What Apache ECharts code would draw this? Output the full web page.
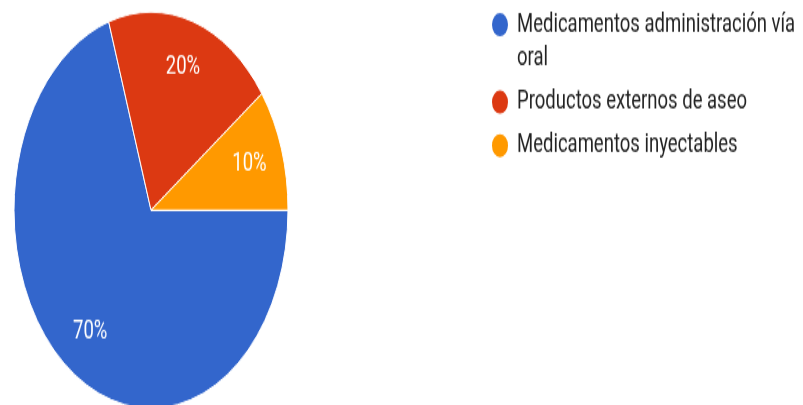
<!DOCTYPE html>
<html>
<head>
<meta charset="utf-8">
<script src="https://cdn.jsdelivr.net/npm/echarts@6/dist/echarts.min.js"></script>
<style>
  html, body { margin: 0; padding: 0; background: #fff; }
  body { width: 803px; height: 405px; position: relative; }
  #c { position: absolute; left: 0; top: 0; width: 803px; height: 280px; transform: scaleY(1.4464); transform-origin: 0 0; }
</style>
</head>
<body>
<div id="c"></div>
<script>
const categories = ['Medicamentos administración vía oral', 'Productos externos de aseo', 'Medicamentos inyectables'];
const values = [70, 20, 10];
const colors = ['#3366CC', '#DC3912', '#FF9900'];

const chart = echarts.init(document.getElementById('c'));
const pieData = categories.map((n, i) => ({ name: n, value: values[i], itemStyle: { color: colors[i] } }));
const labelData = categories.map((n, i) => ({ name: n, value: values[i] }));

// wrap long legend entry: last word goes to a second line (as in the reference)
function wrapLast(name) {
  const i = name.lastIndexOf(' ');
  return '\n' + name.slice(0, i) + '\n' + name.slice(i + 1);
}

const legendBase = {
  orient: 'vertical', left: 490, padding: 0,
  icon: 'circle', itemWidth: 18, itemHeight: 18,
  selectedMode: false
};
const LH = 23.5;
const textBase = { fontFamily: 'Roboto', fontSize: 18.5, color: '#222', lineHeight: LH, padding: [0, 0, 0, 3] };

chart.setOption({
  animation: false,
  legend: [
    Object.assign({}, legendBase, {
      top: -18.15,
      data: [categories[0]],
      formatter: wrapLast,
      textStyle: textBase
    }),
    Object.assign({}, legendBase, {
      top: 58.8,
      data: [categories[1]],
      textStyle: textBase
    }),
    Object.assign({}, legendBase, {
      top: 88.9,
      data: [categories[2]],
      textStyle: textBase
    })
  ],
  series: [
    {
      type: 'pie',
      center: [151, 145.3],
      radius: [0, 137],
      startAngle: 0,
      clockwise: true,
      label: { show: false },
      labelLine: { show: false },
      itemStyle: { borderColor: '#fff', borderWidth: 1 },
      emphasis: { disabled: true },
      data: pieData
    },
    {
      type: 'pie',
      center: [151, 145.3],
      radius: [64, 137],
      startAngle: 0,
      clockwise: true,
      silent: true,
      legendHoverLink: false,
      itemStyle: { color: 'rgba(0,0,0,0)', borderWidth: 0 },
      label: { show: true, position: 'inside', formatter: '{d}%', color: '#fff', fontFamily: 'Roboto', fontSize: 18.5 },
      labelLine: { show: false },
      emphasis: { disabled: true },
      data: labelData
    }
  ]
});
</script>
</body>
</html>
